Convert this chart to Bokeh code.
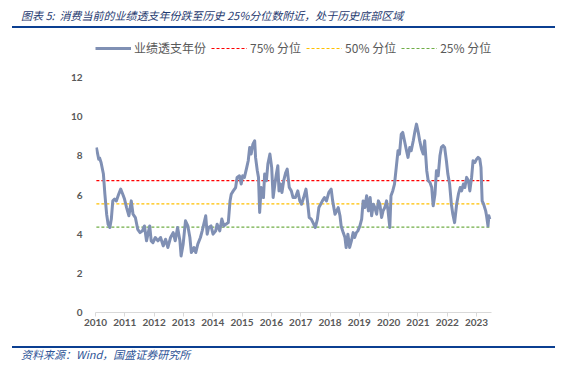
from bokeh.plotting import figure
from bokeh.layouts import column
from bokeh.models import Div, Legend, LegendItem, FixedTicker, Range1d
from bokeh.embed import file_html
from bokeh.resources import INLINE

# ---- data ----
years = [2010.03, 2010.11, 2010.14, 2010.19, 2010.27, 2010.32, 2010.38, 2010.43, 2010.49, 2010.54,
         2010.59, 2010.65, 2010.71, 2010.79, 2010.86, 2010.93, 2010.99, 2011.06, 2011.14, 2011.22,
         2011.28, 2011.36, 2011.44, 2011.52, 2011.60, 2011.67, 2011.74, 2011.80, 2011.85, 2011.90,
         2011.96, 2012.04, 2012.13, 2012.22, 2012.31, 2012.39, 2012.47, 2012.56, 2012.65, 2012.72,
         2012.80, 2012.88, 2012.92, 2012.99, 2013.07, 2013.15, 2013.22, 2013.27, 2013.36, 2013.42,
         2013.49, 2013.58, 2013.64, 2013.72, 2013.76, 2013.81, 2013.86, 2013.94, 2014.01, 2014.10,
         2014.15, 2014.24, 2014.31, 2014.38, 2014.45, 2014.53, 2014.59, 2014.63, 2014.70, 2014.78,
         2014.83, 2014.91, 2014.97, 2015.02, 2015.08, 2015.16, 2015.21, 2015.26, 2015.31, 2015.37,
         2015.43, 2015.46, 2015.52, 2015.56, 2015.60, 2015.65, 2015.73, 2015.77, 2015.83, 2015.88,
         2015.95, 2016.01, 2016.06, 2016.12, 2016.17, 2016.22, 2016.26, 2016.31, 2016.36, 2016.42,
         2016.49, 2016.54, 2016.61, 2016.68, 2016.74, 2016.82, 2016.90, 2016.97, 2017.03, 2017.10,
         2017.18, 2017.23, 2017.29, 2017.36, 2017.42, 2017.50, 2017.57, 2017.62, 2017.68, 2017.74,
         2017.81, 2017.88, 2017.96, 2018.04, 2018.09, 2018.17, 2018.23, 2018.28, 2018.34, 2018.38,
         2018.45, 2018.51, 2018.55, 2018.61, 2018.67, 2018.73, 2018.79, 2018.84, 2018.90, 2018.95,
         2019.02, 2019.08, 2019.13, 2019.19, 2019.25, 2019.31, 2019.37, 2019.42, 2019.48, 2019.53,
         2019.59, 2019.65, 2019.70, 2019.76, 2019.81, 2019.87, 2019.93, 2019.98, 2020.04, 2020.08,
         2020.14, 2020.20, 2020.26, 2020.32, 2020.37, 2020.43, 2020.48, 2020.54, 2020.61, 2020.66,
         2020.72, 2020.77, 2020.84, 2020.90, 2020.95, 2021.01, 2021.06, 2021.12, 2021.18, 2021.23,
         2021.30, 2021.35, 2021.41, 2021.47, 2021.52, 2021.58, 2021.63, 2021.69, 2021.75, 2021.80,
         2021.86, 2021.91, 2021.97, 2022.02, 2022.08, 2022.14, 2022.19, 2022.25, 2022.32, 2022.38,
         2022.44, 2022.49, 2022.55, 2022.60, 2022.66, 2022.72, 2022.77, 2022.83, 2022.88, 2022.94,
         2023.00, 2023.05, 2023.11, 2023.15, 2023.19, 2023.24, 2023.31, 2023.34, 2023.39, 2023.42,
         2023.45]
overdraw_years = [8.43, 7.83, 7.89, 7.66, 7.07, 6.04, 5.02, 4.51, 4.34, 4.77,
                  5.70, 5.79, 5.70, 6.04, 6.30, 6.04, 5.79, 5.36, 4.94, 5.70,
                  5.02, 4.85, 4.25, 4.08, 4.17, 4.42, 3.66, 4.08, 4.42, 3.66,
                  3.57, 3.83, 3.66, 3.83, 3.40, 3.74, 3.32, 3.83, 4.08, 3.66,
                  4.34, 3.66, 2.89, 3.49, 4.68, 4.42, 3.83, 3.06, 3.32, 3.06,
                  3.49, 3.83, 4.17, 4.68, 4.94, 4.00, 4.34, 4.42, 4.00, 4.17,
                  4.51, 4.17, 4.77, 4.42, 4.51, 4.59, 5.70, 6.04, 6.21, 6.38,
                  6.90, 6.98, 6.56, 6.98, 6.90, 7.41, 7.75, 8.43, 8.09, 8.60,
                  8.77, 7.92, 7.24, 6.90, 5.11, 6.38, 5.87, 7.07, 6.73, 7.58,
                  8.09, 7.41, 5.87, 6.56, 7.07, 7.49, 6.21, 6.56, 6.13, 6.73,
                  7.15, 7.32, 6.38, 6.21, 5.87, 5.87, 6.21, 5.70, 5.53, 5.87,
                  6.30, 5.70, 4.85, 4.77, 4.59, 4.34, 4.77, 5.36, 5.53, 5.70,
                  5.87, 5.70, 6.13, 6.30, 5.70, 5.02, 5.19, 5.36, 4.94, 4.42,
                  4.08, 3.83, 3.32, 4.00, 3.32, 3.66, 4.08, 3.83, 4.08, 4.17,
                  4.42, 4.77, 5.70, 5.36, 5.96, 5.19, 5.87, 4.94, 5.53, 5.36,
                  5.02, 5.70, 5.53, 4.85, 5.19, 5.36, 5.70, 5.19, 4.34, 5.96,
                  6.21, 6.56, 7.41, 8.26, 8.09, 9.11, 9.20, 8.77, 8.26, 7.92,
                  8.43, 8.26, 8.77, 9.28, 9.62, 9.20, 8.77, 8.35, 8.09, 8.77,
                  7.24, 6.73, 6.64, 6.38, 5.45, 6.04, 7.24, 6.98, 8.00, 8.43,
                  8.52, 8.43, 7.75, 7.07, 6.56, 5.53, 5.02, 4.59, 5.53, 6.04,
                  6.38, 6.21, 6.56, 6.38, 6.90, 6.73, 6.21, 6.90, 7.75, 7.66,
                  7.83, 7.92, 7.83, 7.41, 5.70, 5.53, 5.19, 4.94, 4.42, 4.94,
                  4.77]
pct75 = 6.73
pct50 = 5.55
pct25 = 4.36
tick_years = [2010, 2011, 2012, 2013, 2014, 2015, 2016, 2017, 2018, 2019, 2020, 2021, 2022, 2023]
y_ticks = [0, 2, 4, 6, 8, 10, 12]
series_names = ["业绩透支年份", "75% 分位", "50% 分位", "25% 分位"]
title_text = "图表 5:&nbsp; 消费当前的业绩透支年份跌至历史 25%分位数附近，处于历史底部区域"
source_text = "资料来源：Wind，国盛证券研究所"

SERIES_COLOR = "#8090B4"
P75_COLOR, P50_COLOR, P25_COLOR = "#FF0000", "#FFC000", "#70AD47"
RULE_COLOR = "#0B3F91"
W = 576
FONT = "'Noto Sans CJK SC', sans-serif"

# ---- header: title and blue rule (HTML) ----
head = Div(width=W, height=40, margin=0, text=(
    f'<div style="position:relative;width:{W}px;height:40px;margin:0;padding:0;">'
    f'<div style="position:absolute;left:21px;top:8px;height:14px;line-height:14px;white-space:nowrap;'
    f'font-family:{FONT};font-style:italic;font-size:11px;color:#1F3A70;">{title_text}</div>'
    f'<div style="position:absolute;left:12px;top:25.7px;width:543px;height:2.5px;background:{RULE_COLOR};"></div>'
    '</div>'))

# ---- main chart ----
p = figure(width=W, height=297, output_backend="svg", toolbar_location=None,
           x_range=Range1d(2010, 2023.85), y_range=Range1d(0, 13.89),
           min_border_left=95, min_border_right=75, min_border_top=0, min_border_bottom=25)
p.outline_line_color = None
p.xgrid.visible = False
p.ygrid.visible = False

p.xaxis.ticker = FixedTicker(ticks=tick_years)
p.xaxis.bounds = (2010, 2023.5)
p.xaxis.major_label_overrides = {y: str(y) for y in tick_years}
p.xaxis.axis_line_color = "#D9D9D9"
p.xaxis.major_tick_line_color = "#D9D9D9"
p.xaxis.major_tick_out = 4
p.xaxis.major_tick_in = 0
p.xaxis.minor_tick_line_color = None
p.xaxis.major_label_standoff = 2
p.yaxis.ticker = FixedTicker(ticks=y_ticks)
p.yaxis.axis_line_color = None
p.yaxis.major_tick_line_color = None
p.yaxis.major_tick_out = 0
p.yaxis.major_tick_in = 0
p.yaxis.minor_tick_line_color = None
p.yaxis.major_label_standoff = 13
for ax in (p.xaxis, p.yaxis):
    ax.major_label_text_font = "Lato"
    ax.major_label_text_font_style = "bold"
    ax.major_label_text_font_size = "10px"
    ax.major_label_text_color = "#595959"

x_ends = [years[0], years[-1]]
r75 = p.line(x_ends, [pct75, pct75], line_color=P75_COLOR, line_width=1.2, line_dash="3 2")
r50 = p.line(x_ends, [pct50, pct50], line_color=P50_COLOR, line_width=1.2, line_dash="3 2")
r25 = p.line(x_ends, [pct25, pct25], line_color=P25_COLOR, line_width=1.2, line_dash="3 2")
rs = p.line(years, overdraw_years, line_color=SERIES_COLOR, line_width=3, line_join="round")

legend = Legend(items=[LegendItem(label=series_names[0], renderers=[rs]),
                       LegendItem(label=series_names[1], renderers=[r75]),
                       LegendItem(label=series_names[2], renderers=[r50]),
                       LegendItem(label=series_names[3], renderers=[r25])],
                orientation="horizontal", location=(0, 255.7),
                glyph_width=36, glyph_height=16, label_height=16, label_standoff=3, spacing=5,
                padding=0, margin=0, background_fill_alpha=0, border_line_color=None,
                label_text_font="Noto Sans CJK SC", label_text_font_size="12px",
                label_text_color="#595959")
p.add_layout(legend, "center")

# ---- footer: blue rule and source (HTML) ----
foot = Div(width=W, height=28, margin=0, text=(
    f'<div style="position:relative;width:{W}px;height:28px;margin:0;padding:0;">'
    f'<div style="position:absolute;left:12px;top:8.5px;width:543px;height:2.5px;background:{RULE_COLOR};"></div>'
    f'<div style="position:absolute;left:21px;top:10.5px;height:12px;line-height:12px;white-space:nowrap;'
    f'font-family:{FONT};font-style:italic;font-size:11px;color:#2F5597;">{source_text}</div>'
    '</div>'))

layout = column(head, p, foot, spacing=0)
open("out.html", "w").write(file_html(layout, INLINE))
